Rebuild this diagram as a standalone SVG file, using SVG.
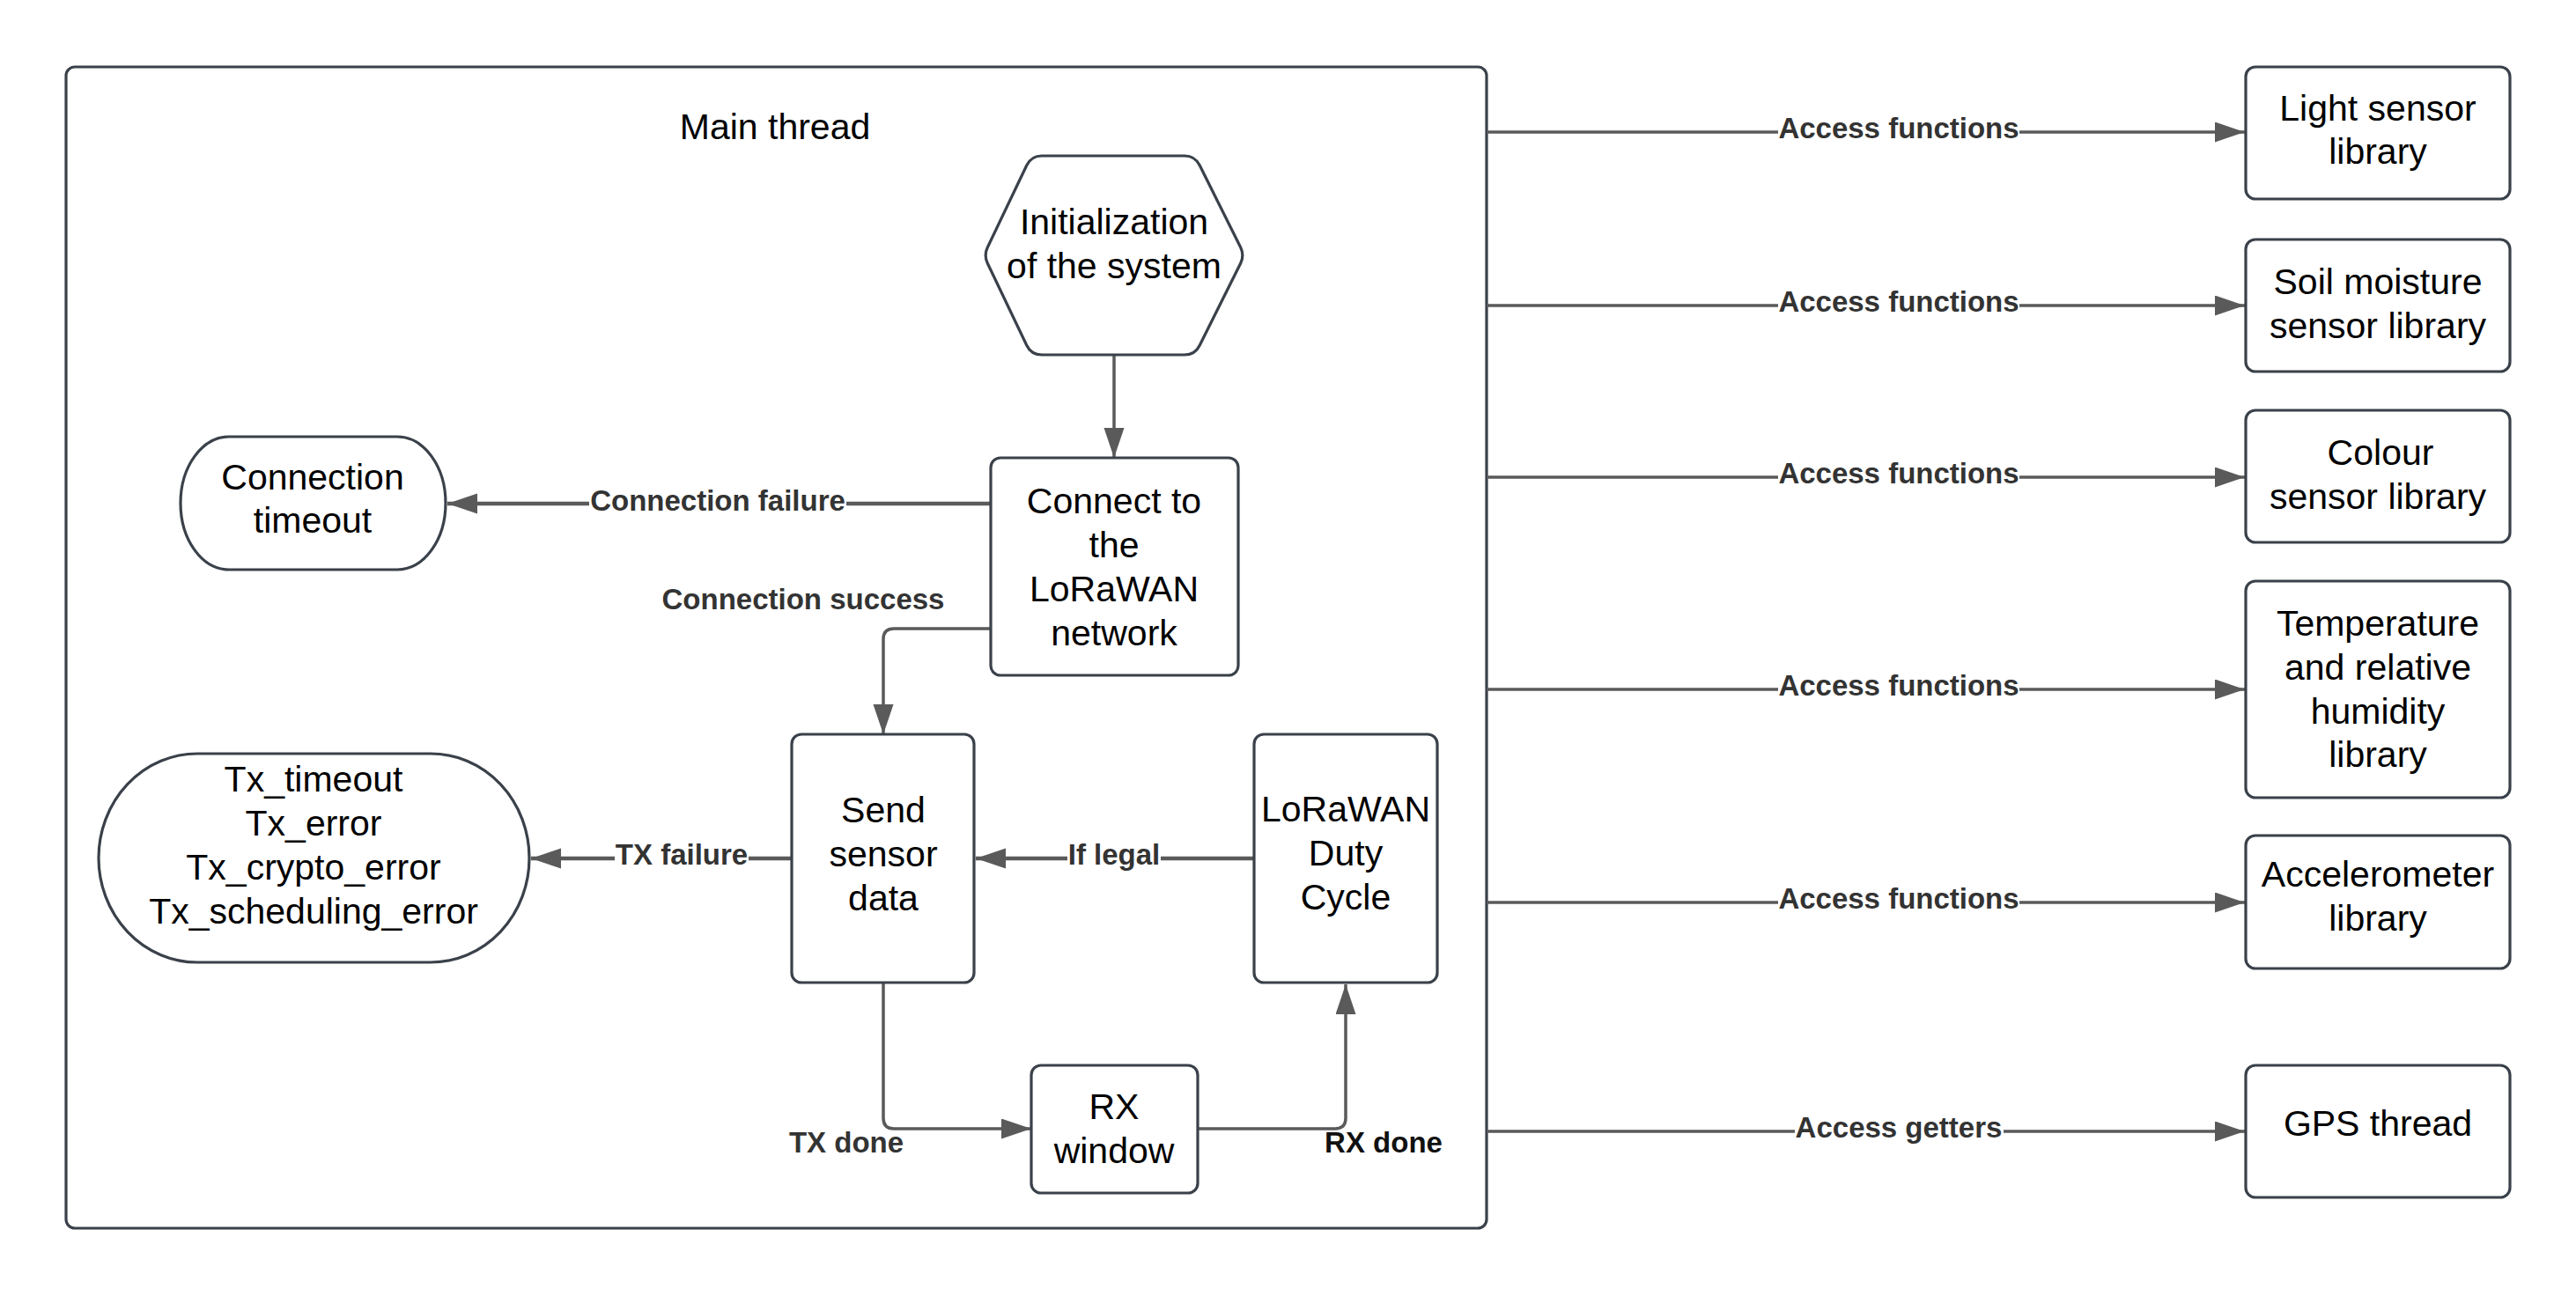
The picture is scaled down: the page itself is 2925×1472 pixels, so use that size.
<svg xmlns="http://www.w3.org/2000/svg" width="2925" height="1472" viewBox="0 0 2925 1472">
<defs>
<style>
.node{fill:#ffffff;stroke:#3a414a;stroke-width:3.2;stroke-linejoin:round}
.t{font-family:"Liberation Sans",Arial,Helvetica,sans-serif;font-size:41px;fill:#000000;text-anchor:middle}
.lbl{font-family:"Liberation Sans",Arial,Helvetica,sans-serif;font-size:33px;font-weight:bold;fill:#333333;text-anchor:middle}
.c{fill:none;stroke:#5a5a5a;stroke-width:3.5;stroke-linejoin:round}
.ck{fill:none;stroke:#5a5a5a;stroke-width:4.5;stroke-linejoin:round}
.cr{fill:none;stroke:#5a5a5a;stroke-width:3.6;stroke-linejoin:round}
.bg{fill:#ffffff;stroke:none}
</style>
<marker id="ah" markerUnits="userSpaceOnUse" markerWidth="36" markerHeight="26" refX="34" refY="11.5" orient="auto">
<path d="M0,0 L34,11.5 L0,23 Z" fill="#5a5a5a"/>
</marker>
</defs>
<rect width="2925" height="1472" fill="#ffffff"/>

<g id="main-thread">
<rect class="node" x="75" y="76" width="1613" height="1319" rx="10"/>
<text class="t" x="880" y="158">Main thread</text>
</g>

<g id="connectors">
<path class="c" d="M1265 403 V520" marker-end="url(#ah)"/>
<path class="ck" d="M1125 572 H508" marker-end="url(#ah)"/>
<path class="c" d="M1125 714 H1015 Q1003 714 1003 726 V834" marker-end="url(#ah)"/>
<path class="ck" d="M1423 975 H1108" marker-end="url(#ah)"/>
<path class="ck" d="M899 975 H603" marker-end="url(#ah)"/>
<path class="c" d="M1003 1116 V1270 Q1003 1282 1015 1282 H1171" marker-end="url(#ah)"/>
<path class="c" d="M1360 1282 H1516 Q1528 1282 1528 1270 V1118" marker-end="url(#ah)"/>
<path class="cr" d="M1688 150 H2549" marker-end="url(#ah)"/>
<path class="cr" d="M1688 347 H2549" marker-end="url(#ah)"/>
<path class="cr" d="M1688 542 H2549" marker-end="url(#ah)"/>
<path class="cr" d="M1688 783 H2549" marker-end="url(#ah)"/>
<path class="cr" d="M1688 1025 H2549" marker-end="url(#ah)"/>
<path class="cr" d="M1688 1285 H2549" marker-end="url(#ah)"/>

<rect class="bg" x="669" y="556" width="292" height="32"/>
<text class="lbl" x="815" y="580">Connection failure</text>
<text class="lbl" x="912" y="692">Connection success</text>
<rect class="bg" x="1212" y="959" width="106" height="32"/>
<text class="lbl" x="1265" y="982">If legal</text>
<rect class="bg" x="698" y="959" width="152" height="32"/>
<text class="lbl" x="774" y="982">TX failure</text>
<text class="lbl" x="961" y="1309">TX done</text>
<text class="lbl" x="1571" y="1309" style="fill:#111111">RX done</text>

<rect class="bg" x="2019" y="134" width="274" height="32"/>
<text class="lbl" x="2156" y="157">Access functions</text>
<rect class="bg" x="2019" y="331" width="274" height="32"/>
<text class="lbl" x="2156" y="354">Access functions</text>
<rect class="bg" x="2019" y="526" width="274" height="32"/>
<text class="lbl" x="2156" y="549">Access functions</text>
<rect class="bg" x="2019" y="767" width="274" height="32"/>
<text class="lbl" x="2156" y="790">Access functions</text>
<rect class="bg" x="2019" y="1009" width="274" height="32"/>
<text class="lbl" x="2156" y="1032">Access functions</text>
<rect class="bg" x="2038" y="1269" width="237" height="32"/>
<text class="lbl" x="2156" y="1292">Access getters</text>
</g>

<g id="init">
<path class="node" d="M1121.3 281 L1165.8 187.8 Q1171 177 1183 177 L1345 177 Q1357 177 1362.2 187.8 L1408.7 281 Q1413 290 1408.7 299 L1362.2 392.2 Q1357 403 1345 403 L1183 403 Q1171 403 1165.8 392.2 L1121.3 299 Q1117 290 1121.3 281 Z"/>
<text class="t" x="1265" y="266">Initialization</text>
<text class="t" x="1265" y="316">of the system</text>
</g>

<g id="connect">
<rect class="node" x="1125" y="520" width="281" height="247" rx="11"/>
<text class="t" x="1265" y="583">Connect to</text>
<text class="t" x="1265" y="633">the</text>
<text class="t" x="1265" y="683">LoRaWAN</text>
<text class="t" x="1265" y="733">network</text>
</g>

<g id="connection-timeout">
<rect class="node" x="205" y="496" width="301" height="151" rx="55" ry="75.5"/>
<text class="t" x="355" y="556">Connection</text>
<text class="t" x="355" y="605">timeout</text>
</g>

<g id="send">
<rect class="node" x="899" y="834" width="207" height="282" rx="11"/>
<text class="t" x="1003" y="934">Send</text>
<text class="t" x="1003" y="984">sensor</text>
<text class="t" x="1003" y="1034">data</text>
</g>

<g id="duty-cycle">
<rect class="node" x="1424" y="834" width="208" height="282" rx="11"/>
<text class="t" x="1528" y="933">LoRaWAN</text>
<text class="t" x="1528" y="983">Duty</text>
<text class="t" x="1528" y="1033">Cycle</text>
</g>

<g id="tx-errors">
<rect class="node" x="112" y="856" width="489" height="237" rx="112" ry="118.5"/>
<text class="t" x="356" y="899">Tx_timeout</text>
<text class="t" x="356" y="949">Tx_error</text>
<text class="t" x="356" y="999">Tx_crypto_error</text>
<text class="t" x="356" y="1049">Tx_scheduling_error</text>
</g>

<g id="rx-window">
<rect class="node" x="1171" y="1210" width="189" height="145" rx="11"/>
<text class="t" x="1265" y="1271">RX</text>
<text class="t" x="1265" y="1321">window</text>
</g>

<g id="light-sensor">
<rect class="node" x="2550" y="76" width="300" height="150" rx="11"/>
<text class="t" x="2700" y="137">Light sensor</text>
<text class="t" x="2700" y="186">library</text>
</g>

<g id="soil-moisture">
<rect class="node" x="2550" y="272" width="300" height="150" rx="11"/>
<text class="t" x="2700" y="334">Soil moisture</text>
<text class="t" x="2700" y="384">sensor library</text>
</g>

<g id="colour-sensor">
<rect class="node" x="2550" y="466" width="300" height="150" rx="11"/>
<text class="t" x="2703" y="528">Colour</text>
<text class="t" x="2700" y="578">sensor library</text>
</g>

<g id="temperature">
<rect class="node" x="2550" y="660" width="300" height="246" rx="11"/>
<text class="t" x="2700" y="722">Temperature</text>
<text class="t" x="2700" y="772">and relative</text>
<text class="t" x="2700" y="822">humidity</text>
<text class="t" x="2700" y="871">library</text>
</g>

<g id="accelerometer">
<rect class="node" x="2550" y="949" width="300" height="151" rx="11"/>
<text class="t" x="2700" y="1007">Accelerometer</text>
<text class="t" x="2700" y="1057">library</text>
</g>

<g id="gps">
<rect class="node" x="2550" y="1210" width="300" height="150" rx="11"/>
<text class="t" x="2700" y="1290">GPS thread</text>
</g>
</svg>
